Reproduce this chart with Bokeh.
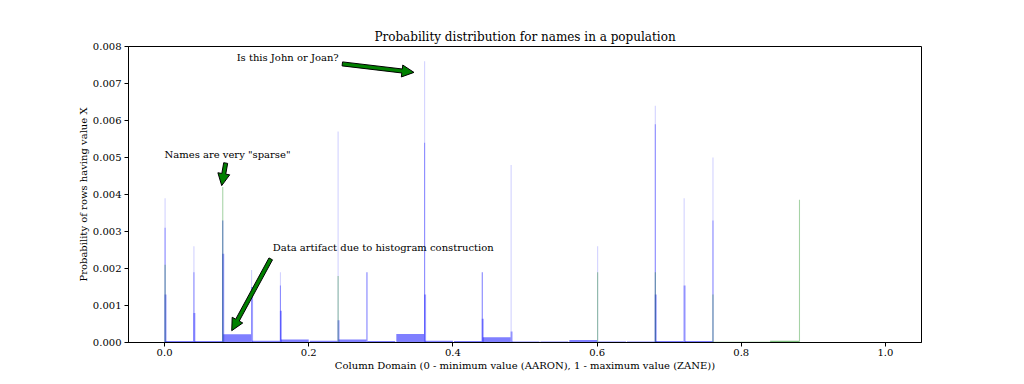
import numpy as np
from bokeh.plotting import figure
from bokeh.models import Label, FixedTicker, PrintfTickFormatter, Range1d
from bokeh.embed import file_html
from bokeh.resources import INLINE

# ---- data ----
spike_x = [0.00, 0.04, 0.08, 0.12, 0.16, 0.24, 0.28, 0.36, 0.44, 0.48, 0.60, 0.68, 0.72, 0.76]
p_top = [0.0039, 0.0026, 0.0033, 0.00196, 0.0019, 0.0057, 0.0019, 0.0076, 0.0019, 0.0048, 0.0026, 0.0064, 0.0039, 0.0050]
p_mid = [0.0031, 0.0019, 0.0033, 0.0, 0.00154, 0.0, 0.0019, 0.0054, 0.0019, 0.0, 0.0, 0.0059, 0.0, 0.0033]
p_low = [0.0013, 0.0008, 0.0024, 0.0015, 0.00086, 0.0006, 0.0, 0.0013, 0.00064, 0.0003, 0.0, 0.0013, 0.00154, 0.0]

green_x = [0.00, 0.08, 0.24, 0.60, 0.68, 0.76, 0.88]
green_p = [0.0021, 0.0042, 0.0018, 0.0019, 0.0019, 0.0013, 0.00386]

bar_left = [0.00, 0.04, 0.08, 0.12, 0.16, 0.20, 0.24, 0.28, 0.32, 0.36,
            0.40, 0.44, 0.48, 0.52, 0.56, 0.60, 0.64, 0.68, 0.72]
bar_p = [0.00004, 0.00004, 0.00022, 0.00005, 0.00008, 0.00005, 0.00008, 0.00004, 0.00023, 0.00005,
         0.00004, 0.00014, 0.00003, 0.00003, 0.00007, 0.00003, 0.00003, 0.00004, 0.00004]

green_bar_left = [0.76, 0.80, 0.84]
green_bar_p = [0.00002, 0.00002, 0.00005]
bin_width = 0.04

x_ticks = [0.0, 0.2, 0.4, 0.6, 0.8, 1.0]
y_ticks = [0.000, 0.001, 0.002, 0.003, 0.004, 0.005, 0.006, 0.007, 0.008]

# annotations: text, text position (left, middle), arrow tail, arrow tip
ann_text = ["Is this John or Joan?", 'Names are very "sparse"', "Data artifact due to histogram construction"]
ann_xy = [(0.100, 0.0077), (0.000, 0.00508), (0.150, 0.00258)]
arrow_tail = [(0.2466, 0.00753), (0.0848, 0.00485), (0.1473, 0.00226)]
arrow_tip = [(0.3460, 0.00730), (0.0793, 0.00424), (0.0932, 0.00032)]

FW, FH = 793, 296
XR = (-0.05, 1.05)
YR = (0.0, 0.008)
SERIF = "DejaVu Serif"

p = figure(frame_width=FW, frame_height=FH, x_range=Range1d(*XR), y_range=Range1d(*YR),
           output_backend="svg", toolbar_location=None,
           min_border_left=128, min_border_right=95, min_border_top=46, min_border_bottom=34,
           title="Probability distribution for names in a population")
p.title.text_font = SERIF
p.title.text_font_size = "12px"
p.title.text_font_style = "normal"
p.title.align = "center"
p.title.text_color = "black"
p.title.standoff = 5
p.grid.visible = False
p.outline_line_color = "black"
p.outline_line_width = 1
p.background_fill_color = "white"
p.border_fill_color = "white"

for ax in (p.xaxis, p.yaxis):
    ax.axis_line_color = "black"
    ax.major_tick_line_color = "black"
    ax.minor_tick_line_color = None
    ax.major_tick_in = 0
    ax.major_tick_out = 4
    ax.major_label_standoff = 3
    ax.major_label_text_font = SERIF
    ax.major_label_text_font_size = "10px"
    ax.major_label_text_color = "black"
    ax.axis_label_text_font = SERIF
    ax.axis_label_text_font_size = "10px"
    ax.axis_label_text_font_style = "normal"
    ax.axis_label_text_color = "black"

p.xaxis.ticker = FixedTicker(ticks=x_ticks)
p.xaxis.formatter = PrintfTickFormatter(format="%.1f")
p.yaxis.ticker = FixedTicker(ticks=y_ticks)
p.yaxis.formatter = PrintfTickFormatter(format="%.3f")
p.xaxis.axis_label = "Column Domain (0 - minimum value (AARON), 1 - maximum value (ZANE))"
p.yaxis.axis_label = "Probability of rows having value X"
p.xaxis.major_label_standoff = 2
p.xaxis.axis_label_standoff = 1
p.yaxis.axis_label_standoff = 1

# wide (coarse) bins
bl = np.array(bar_left)
p.quad(left=bl + 0.0015, right=bl + bin_width, bottom=0, top=bar_p,
       fill_color="blue", fill_alpha=0.5, line_color=None)
gbl = np.array(green_bar_left)
p.quad(left=gbl, right=gbl + bin_width, bottom=0, top=green_bar_p,
       fill_color="green", fill_alpha=0.5, line_color=None)

# spikes (fine bins)
sx = np.array(spike_x)
p.quad(left=sx, right=sx + 0.0015, bottom=0, top=p_top,
       fill_color="blue", fill_alpha=0.18, line_color=None)
p.quad(left=sx, right=sx + 0.0015, bottom=0, top=p_mid,
       fill_color="blue", fill_alpha=0.35, line_color=None)
p.quad(left=sx, right=sx + 0.0028, bottom=0, top=p_low,
       fill_color="blue", fill_alpha=0.35, line_color=None)
gx = np.array(green_x)
p.quad(left=gx, right=gx + 0.0015, bottom=0, top=green_p,
       fill_color="green", fill_alpha=0.35, line_color=None)

# annotation arrows (matplotlib-style filled arrows)
sxp = FW / (XR[1] - XR[0])
syp = FH / (YR[1] - YR[0])
shaft_w, head_w, head_l = 4.0, 12.0, 12.0
xs_list, ys_list = [], []
for (tx, ty), (hx, hy) in zip(arrow_tail, arrow_tip):
    t = np.array([tx * sxp, ty * syp])
    h = np.array([hx * sxp, hy * syp])
    u = (h - t) / np.linalg.norm(h - t)
    n = np.array([-u[1], u[0]])
    b = h - u * head_l
    pts = [t + n * shaft_w / 2, b + n * shaft_w / 2, b + n * head_w / 2, h,
           b - n * head_w / 2, b - n * shaft_w / 2, t - n * shaft_w / 2]
    xs_list.append([q[0] / sxp for q in pts])
    ys_list.append([q[1] / syp for q in pts])
p.patches(xs_list, ys_list, fill_color="green", line_color="black", line_width=1)

for txt, (lx, ly) in zip(ann_text, ann_xy):
    p.add_layout(Label(x=lx, y=ly, text=txt, text_font=SERIF, text_font_size="10px",
                       text_baseline="middle", text_align="left", text_color="black"))

open("out.html", "w").write(file_html(p, INLINE))
